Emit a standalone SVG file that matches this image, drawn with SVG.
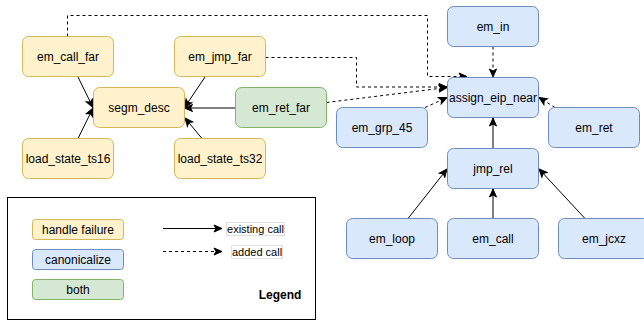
<svg xmlns="http://www.w3.org/2000/svg" width="644" height="322" viewBox="0 0 644 322">
<style>
.y{fill:#fff2cc;stroke:#d6b656;stroke-width:1}
.b{fill:#dae8fc;stroke:#6c8ebf;stroke-width:1}
.g{fill:#d5e8d4;stroke:#82b366;stroke-width:1}
text{font-family:"Liberation Sans",Arial,sans-serif;font-size:12px;fill:#000;text-anchor:middle}
.e{fill:none;stroke:#000;stroke-width:1}
.d{stroke-dasharray:3 3}
</style>
<defs>
<marker id="a" markerUnits="userSpaceOnUse" markerWidth="10" markerHeight="10" viewBox="0 0 10 10" refX="9" refY="5" orient="auto">
<path d="M1,1.5 L9,5 L1,8.5 L3,5 Z" fill="#000" stroke="#000" stroke-width="1"/>
</marker>
</defs>
<rect x="0" y="0" width="644" height="322" fill="#fff"/>
<g id="connectors">
<path class="e" d="M78,77 L93,107.5" marker-end="url(#a)"/>
<path class="e" d="M78,138.5 L93,108" marker-end="url(#a)"/>
<path class="e" d="M205,77 L184.5,107.5" marker-end="url(#a)"/>
<path class="e" d="M235.5,108 L184.5,108" marker-end="url(#a)"/>
<path class="e" d="M202,138.5 L185,118" marker-end="url(#a)"/>
<path class="e d" d="M67.5,36.5 V15.5 H427.5 V76.5 H467" marker-end="url(#a)"/>
<path class="e d" d="M265.5,57.5 H356.5 V87 H447" marker-end="url(#a)"/>
<path class="e d" d="M326.5,102.5 L447,87.5" marker-end="url(#a)"/>
<path class="e d" d="M425,107.5 L447,97.5" marker-end="url(#a)"/>
<path class="e d" d="M493,46.5 V77" marker-end="url(#a)"/>
<path class="e d" d="M555,107.5 L539,97.5" marker-end="url(#a)"/>
<path class="e" d="M493,148.5 V118" marker-end="url(#a)"/>
<path class="e" d="M408,218.5 L447,169" marker-end="url(#a)"/>
<path class="e" d="M493,218.5 V189" marker-end="url(#a)"/>
<path class="e" d="M585,218.5 L539,169" marker-end="url(#a)"/>
</g>
<g id="em_call_far"><rect class="y" x="22.5" y="36.5" width="91" height="40" rx="6"/><text x="68" y="61">em_call_far</text></g>
<g id="segm_desc"><rect class="y" x="93.5" y="87.5" width="91" height="40" rx="6"/><text x="139" y="112">segm_desc</text></g>
<g id="em_jmp_far"><rect class="y" x="174.5" y="36.5" width="91" height="40" rx="6"/><text x="220" y="61">em_jmp_far</text></g>
<g id="em_ret_far"><rect class="g" x="235.5" y="87.5" width="91" height="40" rx="6"/><text x="281" y="112">em_ret_far</text></g>
<g id="load_state_ts16"><rect class="y" x="22.5" y="138.5" width="91" height="40" rx="6"/><text x="68" y="163">load_state_ts16</text></g>
<g id="load_state_ts32"><rect class="y" x="174.5" y="138.5" width="91" height="40" rx="6"/><text x="220" y="163">load_state_ts32</text></g>
<g id="em_in"><rect class="b" x="447.5" y="6.5" width="91" height="40" rx="6"/><text x="493" y="31">em_in</text></g>
<g id="assign_eip_near"><rect class="b" x="447.5" y="77.5" width="91" height="40" rx="6"/><text x="493" y="102">assign_eip_near</text></g>
<g id="em_grp_45"><rect class="b" x="336.5" y="107.5" width="91" height="40" rx="6"/><text x="382" y="132">em_grp_45</text></g>
<g id="em_ret"><rect class="b" x="548.5" y="107.5" width="91" height="40" rx="6"/><text x="594" y="132">em_ret</text></g>
<g id="jmp_rel"><rect class="b" x="447.5" y="148.5" width="91" height="40" rx="6"/><text x="493" y="173">jmp_rel</text></g>
<g id="em_loop"><rect class="b" x="346.5" y="218.5" width="91" height="40" rx="6"/><text x="392" y="243">em_loop</text></g>
<g id="em_call"><rect class="b" x="447.5" y="218.5" width="91" height="40" rx="6"/><text x="493" y="243">em_call</text></g>
<g id="em_jcxz"><rect class="b" x="558.5" y="218.5" width="91" height="40" rx="6"/><text x="604" y="243">em_jcxz</text></g>
<g id="legend">
<rect x="7.5" y="197.5" width="308" height="122" fill="#fff" stroke="#000" stroke-width="1"/>
<rect class="y" x="32.5" y="219.5" width="91" height="20" rx="3"/><text x="78" y="234">handle failure</text>
<rect class="b" x="32.5" y="249.5" width="91" height="20" rx="3"/><text x="78" y="264">canonicalize</text>
<rect class="g" x="32.5" y="279.5" width="91" height="20" rx="3"/><text x="78" y="294">both</text>
<path class="e" d="M163,228.5 H222" marker-end="url(#a)"/>
<path class="e d" d="M163,251.5 H222" marker-end="url(#a)"/>
<rect x="226.5" y="222.5" width="58" height="13" fill="#fff" stroke="#e0e0e0" stroke-width="1"/>
<text x="255.5" y="233" style="font-size:11px">existing call</text>
<rect x="231.5" y="245.5" width="51" height="13" fill="#fff" stroke="#e0e0e0" stroke-width="1"/>
<text x="257" y="256" style="font-size:11px">added call</text>
<text x="280" y="299" style="font-weight:bold">Legend</text>
</g>
</svg>
